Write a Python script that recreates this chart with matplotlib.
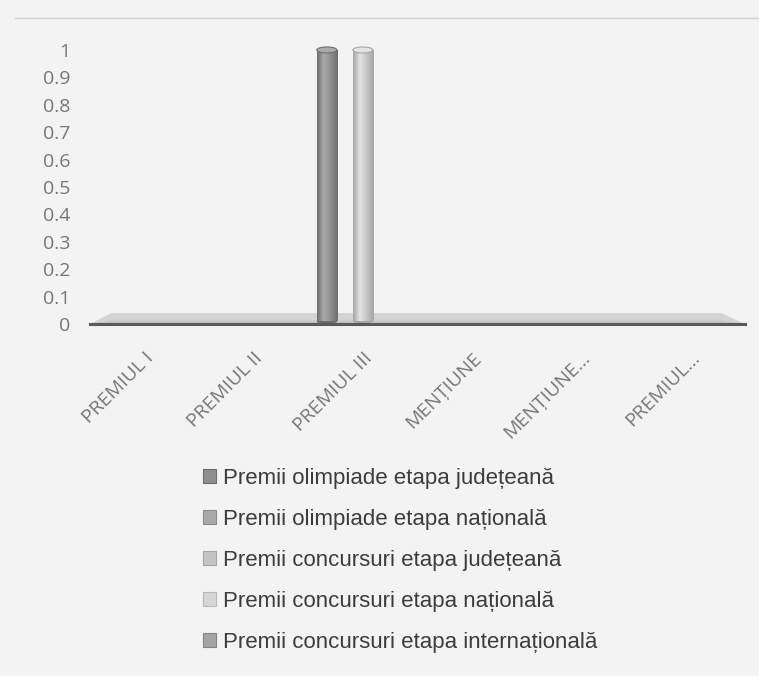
import numpy as np
import matplotlib
matplotlib.use("Agg")
import matplotlib.pyplot as plt
from matplotlib.patches import Ellipse, Patch
from matplotlib.colors import LinearSegmentedColormap
from matplotlib.lines import Line2D

categories = ["PREMIUL I", "PREMIUL II", "PREMIUL III", "MENȚIUNE", "MENȚIUNE...", "PREMIUL..."]
series_names = ["Premii olimpiade etapa județeană",
                "Premii olimpiade etapa națională",
                "Premii concursuri etapa județeană",
                "Premii concursuri etapa națională",
                "Premii concursuri etapa internațională"]
olimp_jud = [0, 0, 1, 0, 0, 0]
olimp_nat = [0, 0, 0, 0, 0, 0]
conc_jud = [0, 0, 1, 0, 0, 0]
conc_nat = [0, 0, 0, 0, 0, 0]
conc_int = [0, 0, 0, 0, 0, 0]
yticks = [0, 0.1, 0.2, 0.3, 0.4, 0.5, 0.6, 0.7, 0.8, 0.9, 1]

series = [olimp_jud, olimp_nat, conc_jud, conc_nat, conc_int]
# grey tones as they came out of the scan: (swatch, dark edge, highlight)
shades = [("#8e8e8e", "#6e6e6e", "#ababab"),
          ("#a9a9a9", "#8a8a8a", "#c4c4c4"),
          ("#c4c4c4", "#a6a6a6", "#e4e4e4"),
          ("#d6d6d6", "#b8b8b8", "#eeeeee"),
          ("#a3a3a3", "#848484", "#bebebe")]

bg = "#f3f3f3"
fig = plt.figure(figsize=(7.59, 6.76), dpi=100, facecolor=bg)
ax = fig.add_axes([90 / 759, 1 - 324 / 676, 655 / 759, 287.7 / 676])
ax.set_facecolor(bg)

x = np.arange(len(categories))
slot = 0.165
w = 0.185

# floor of the 3d chart
ax.fill([-0.5, -0.3, 5.28, 5.5], [0, 0.04, 0.04, 0], color="#d4d4d4", zorder=1, lw=0)
ax.fill([-0.5, -0.3, 5.28, 5.5], [0, 0.012, 0.012, 0], color="#c4c4c4", zorder=1, lw=0)

for s, vals in enumerate(series):
    xs = x + (s - 2) * slot
    bars = ax.bar(xs, vals, width=w, color=shades[s][0], zorder=3, lw=0)
    cmap = LinearSegmentedColormap.from_list("cyl", [shades[s][1], shades[s][2], shades[s][0], shades[s][1]])
    grad = np.linspace(0, 1, 64).reshape(1, -1)
    for b, v in zip(bars, vals):
        if v <= 0:
            continue
        im = ax.imshow(grad, cmap=cmap, aspect="auto", zorder=4,
                       extent=[b.get_x(), b.get_x() + w, 0.012, v], interpolation="bilinear")
        im.set_clip_path(b)
        ax.add_patch(Ellipse((b.get_x() + w / 2, v), w, 0.022, facecolor=shades[s][2],
                             edgecolor=shades[s][1], lw=0.8, zorder=5))
        ax.add_patch(Ellipse((b.get_x() + w / 2, 0.012), w, 0.022, facecolor=shades[s][1],
                             lw=0, zorder=3.5))

ax.set_xlim(-0.5, 5.5)
ax.set_ylim(0, 1.05)
ax.set_yticks(yticks)
ax.set_yticklabels(["%g" % t for t in yticks])
ax.set_xticks(x)
ax.set_xticklabels(categories, rotation=45, ha="right", rotation_mode="anchor")
for lab in ax.get_xticklabels() + ax.get_yticklabels():
    lab.set_fontfamily("Open Sans")
    lab.set_fontsize(14)
    lab.set_color("#777777")
ax.tick_params(axis="y", length=0, pad=14)
ax.tick_params(axis="x", length=0, pad=18)

for side in ["top", "right", "left"]:
    ax.spines[side].set_visible(False)
ax.spines["bottom"].set_color("#5a5a5a")
ax.spines["bottom"].set_linewidth(2.2)
ax.spines["bottom"].set_zorder(6)

# faint edge of the scanned chart frame
fig.add_artist(Line2D([0.02, 1.0], [1 - 18 / 676, 1 - 18 / 676], color="#d2d2d2", lw=1))

handles = [Patch(facecolor=shades[i][0], edgecolor=shades[i][1], lw=0.8) for i in range(5)]
fig.legend(handles, series_names, loc="upper left", bbox_to_anchor=(203 / 759, 1 - 468 / 676),
           frameon=False, prop={"family": "Liberation Sans", "size": 16},
           handlelength=0.6, handleheight=0.6, handletextpad=0.3, labelspacing=0.9,
           borderpad=0, borderaxespad=0, labelcolor="#3c3c3c")

fig.savefig("out.png", dpi=100, facecolor=bg)
